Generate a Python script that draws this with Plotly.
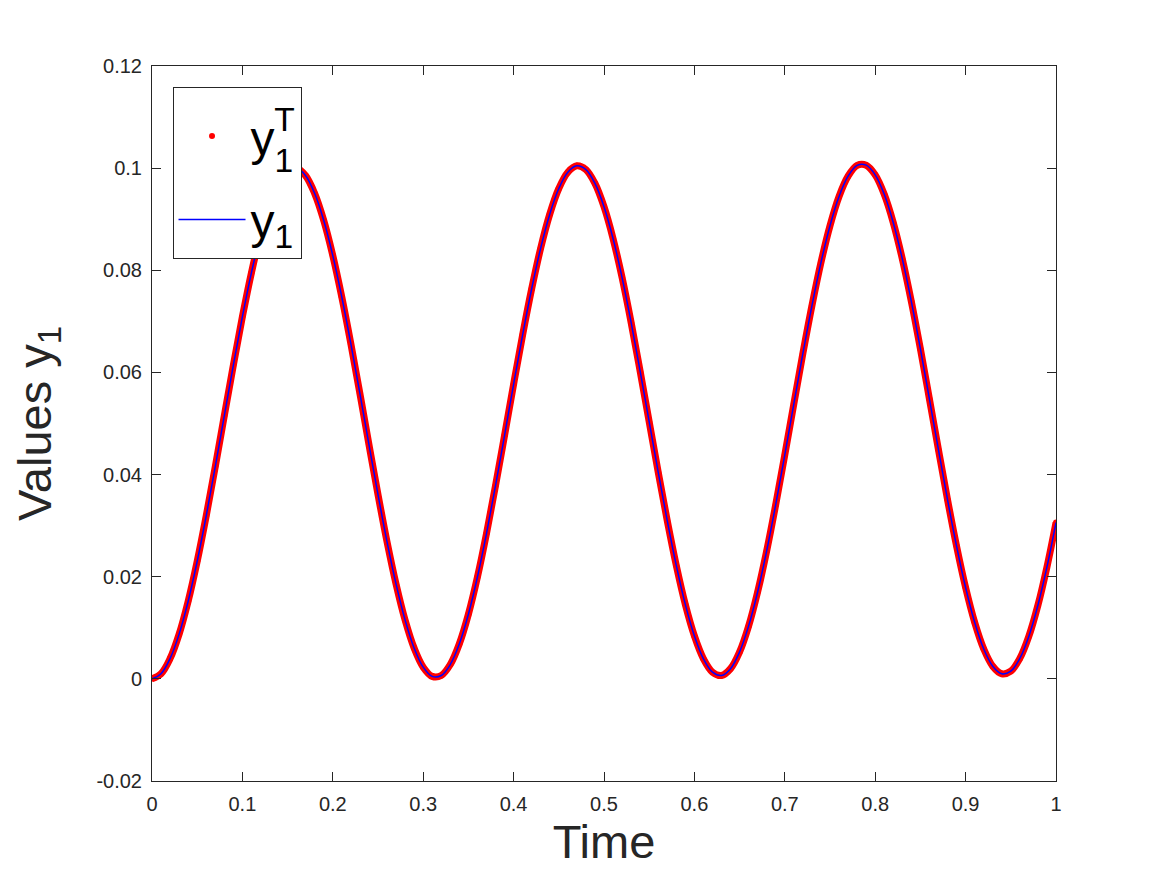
import plotly.graph_objects as go

# Time samples (step 0.01)
time = [round(i * 0.01, 2) for i in range(101)]

# y1^T values
y1_true = [
    0.00000, 0.00101, 0.00397, 0.00876, 0.01520, 0.02303, 0.03194, 0.04157, 0.05154, 0.06145,
    0.07091, 0.07954, 0.08699, 0.09297, 0.09725, 0.09965, 0.10007, 0.09851, 0.09502, 0.08974,
    0.08288, 0.07472, 0.06559, 0.05584, 0.04587, 0.03607, 0.02683, 0.01854, 0.01150, 0.00601,
    0.00229, 0.00048, 0.00066, 0.00282, 0.00687, 0.01265, 0.01994, 0.02844, 0.03782, 0.04769,
    0.05768, 0.06737, 0.07638, 0.08437, 0.09099, 0.09601, 0.09920, 0.10045, 0.09971, 0.09701,
    0.09245, 0.08622, 0.07857, 0.06978, 0.06021, 0.05033, 0.04044, 0.03093, 0.02217, 0.01454,
    0.00841, 0.00393, 0.00131, 0.00066, 0.00200, 0.00528, 0.01037, 0.01706, 0.02510, 0.03415,
    0.04386, 0.05385, 0.06371, 0.07305, 0.08151, 0.08873, 0.09445, 0.09842, 0.10054, 0.10058,
    0.09868, 0.09488, 0.08932, 0.08222, 0.07387, 0.06461, 0.05479, 0.04482, 0.03509, 0.02599,
    0.01788, 0.01109, 0.00589, 0.00248, 0.00100, 0.00151, 0.00400, 0.00836, 0.01441, 0.02192,
    0.03060,
]

# y1 (model) values, coinciding with y1^T in the picture
y1_model = list(y1_true)

x_tickvals = [0, 0.1, 0.2, 0.3, 0.4, 0.5, 0.6, 0.7, 0.8, 0.9, 1]
x_ticktext = ["0", "0.1", "0.2", "0.3", "0.4", "0.5", "0.6", "0.7", "0.8", "0.9", "1"]
y_tickvals = [-0.02, 0, 0.02, 0.04, 0.06, 0.08, 0.1, 0.12]
y_ticktext = ["-0.02", "0", "0.02", "0.04", "0.06", "0.08", "0.1", "0.12"]

AX = "#262626"
FONT = "Liberation Sans, Arial, Helvetica, sans-serif"

fig = go.Figure()

# dense red dots appear as a continuous band
fig.add_trace(go.Scatter(
    x=time, y=y1_true, mode="lines", line=dict(color="#ff0000", width=7, shape="spline"),
    showlegend=False, hoverinfo="skip",
))
fig.add_trace(go.Scatter(
    x=time, y=y1_true, mode="markers", marker=dict(color="#ff0000", size=6),
    name=('y<sub><span style="letter-spacing:-19px;baseline-shift:-7px">1</span></sub>'
          '<sup><span style="baseline-shift:4px">T</span></sup>'),
    legendgroup="a",
))
fig.add_trace(go.Scatter(
    x=time, y=y1_model, mode="lines", line=dict(color="#0000ff", width=1.5, shape="spline"),
    name="y<sub>1</sub>", legendgroup="b",
))

axis_common = dict(
    showline=True, linecolor=AX, linewidth=1, mirror="allticks",
    ticks="inside", ticklen=9, tickcolor=AX, tickwidth=1,
    showgrid=False, zeroline=False,
    tickfont=dict(family=FONT, size=20, color=AX),
)

fig.update_layout(
    width=1167, height=875,
    margin=dict(l=144, r=119, t=58, b=102),
    paper_bgcolor="white", plot_bgcolor="white",
    font=dict(family=FONT, color=AX),
    xaxis=dict(
        range=[0, 1], tickmode="array", tickvals=x_tickvals, ticktext=x_ticktext,
        ticklabelstandoff=5,
        title=dict(text="Time", font=dict(family=FONT, size=47, color=AX), standoff=11),
        **axis_common,
    ),
    yaxis=dict(
        range=[-0.02, 0.12], tickmode="array", tickvals=y_tickvals, ticktext=y_ticktext,
        ticklabelstandoff=5,
        title=dict(text="Values y<sub>1</sub>", font=dict(family=FONT, size=47, color=AX), standoff=33),
        **axis_common,
    ),
    legend=dict(
        x=0.0227, y=0.9706, xanchor="left", yanchor="top",
        bgcolor="white", bordercolor=AX, borderwidth=1,
        font=dict(family=FONT, size=48, color="black"),
        title=dict(text=" ", font=dict(family=FONT, size=8)),
        tracegroupgap=18, itemwidth=67,
    ),
)

fig.write_html("out.html")
